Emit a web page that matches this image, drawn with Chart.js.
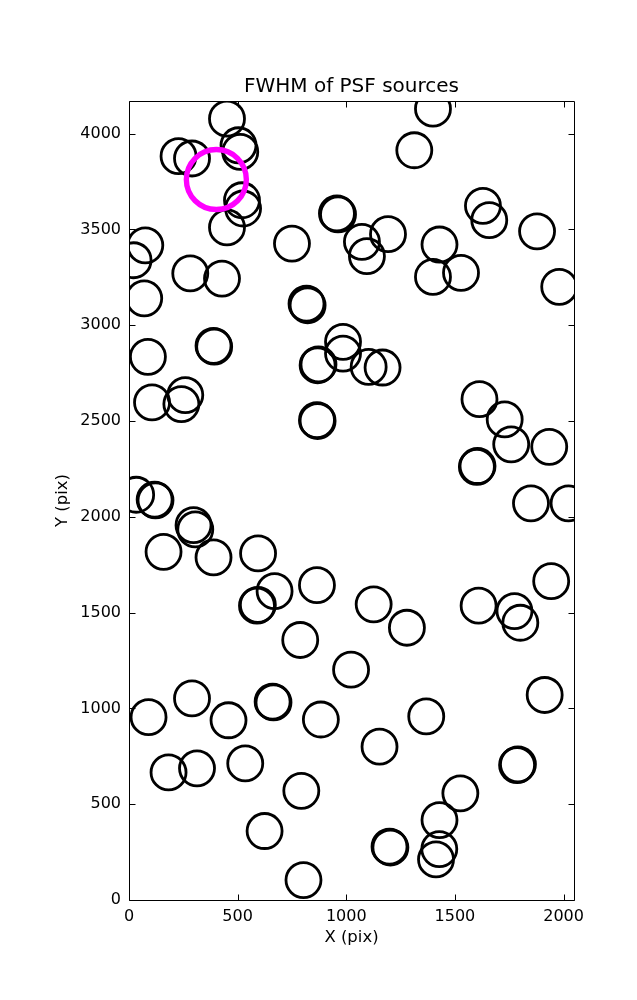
<!DOCTYPE html>
<html>
<head>
<meta charset="utf-8">
<script src="https://cdn.jsdelivr.net/npm/chart.js@4"></script>
<style>
html,body{margin:0;padding:0;background:#fff;}
canvas{display:block;}
</style>
</head>
<body>
<canvas id="c" width="637" height="1000"></canvas>
<script>
// Source positions (pix)
const srcX = [451,504,512,228,290,520,525,451,957,962,75,21,282,428,70,750,817,822,
  1399,1313,1072,1095,1192,1429,1399,1528,1629,1658,1878,1980,
  389,392,87,985,985,868,872,1103,1167,106,259,241,865,868,
  1613,1729,1759,1934,1601,1604,1850,2023,33,118,122,
  297,305,159,389,594,670,589,593,865,788,1022,
  90,290,458,661,665,883,1943,1126,1279,1609,1774,1801,1913,1368,1153,
  182,313,535,793,624,803,1786,1790,1525,1429,1199,1203,1428,1413];
const srcY = [4078,3939,3904,3882,3870,3652,3609,3510,3583,3578,3417,3339,3270,3243,3140,3426,3112,3104,
  4130,3913,3435,3360,3475,3421,3252,3273,3623,3548,3490,3200,
  2892,2888,2835,2913,2852,2791,2795,2782,2779,2597,2635,2588,2504,2500,
  2614,2508,2378,2365,2261,2265,2070,2070,2115,2090,2086,
  1956,1934,1817,1788,1809,1612,1536,1540,1643,1357,1202,
  954,1052,938,1035,1031,942,1664,1543,1421,1536,1508,1447,1070,958,800,
  666,687,713,570,360,104,704,708,557,417,278,274,266,212];
// Highlighted source
const hiX = [402];
const hiY = [3760];
// Axis ranges and ticks
const xRange = [0, 2048];
const yRange = [0, 4170];
const xTicks = [0,500,1000,1500,2000];
const yTicks = [0,500,1000,1500,2000,2500,3000,3500,4000];

const FONT = "'DejaVu Sans', sans-serif";
Chart.defaults.color = '#000';
Chart.defaults.font.family = FONT;

const frame = {
  id: 'frame',
  afterDatasetsDraw(chart) {
    const {ctx, chartArea: a, scales: {x, y}} = chart;
    ctx.save();
    ctx.strokeStyle = '#000';
    ctx.lineWidth = 1;
    const L = Math.round(a.left) + 0.5, R = Math.round(a.right) + 0.5;
    const T = Math.round(a.top) + 0.5, B = Math.round(a.bottom) + 0.5;
    ctx.beginPath();
    ctx.rect(L, T, R - L, B - T);
    const len = 6;
    x.ticks.forEach(t => {
      const px = Math.round(x.getPixelForValue(t.value)) + 0.5;
      ctx.moveTo(px, B); ctx.lineTo(px, B - len);
      ctx.moveTo(px, T); ctx.lineTo(px, T + len);
    });
    y.ticks.forEach(t => {
      const py = Math.round(y.getPixelForValue(t.value)) + 0.5;
      ctx.moveTo(L, py); ctx.lineTo(L + len, py);
      ctx.moveTo(R, py); ctx.lineTo(R - len, py);
    });
    ctx.stroke();
    ctx.restore();
  }
};

new Chart(document.getElementById('c'), {
  type: 'scatter',
  data: {
    datasets: [
      {
        data: hiX.map((v, i) => ({x: v, y: hiY[i]})),
        pointRadius: 30, pointHoverRadius: 30,
        pointBorderWidth: 5.4, pointHoverBorderWidth: 5.4,
        borderColor: '#ff00ff', backgroundColor: 'rgba(0,0,0,0)',
        clip: 0
      },
      {
        data: srcX.map((v, i) => ({x: v, y: srcY[i]})),
        pointRadius: 17.5, pointHoverRadius: 17.5,
        pointBorderWidth: 2.8, pointHoverBorderWidth: 2.8,
        borderColor: '#000', backgroundColor: 'rgba(0,0,0,0)',
        clip: 0
      }
    ]
  },
  options: {
    responsive: false,
    animation: false,
    devicePixelRatio: 1,
    events: [],
    layout: {padding: {left: 49, right: 63, top: 75, bottom: 48}},
    plugins: {
      legend: {display: false},
      tooltip: {enabled: false},
      title: {
        display: true,
        fullSize: false,
        text: 'FWHM of PSF sources',
        color: '#000',
        font: {family: FONT, size: 20, weight: 'normal'},
        padding: {top: 0, bottom: 2}
      }
    },
    scales: {
      x: {
        type: 'linear', min: xRange[0], max: xRange[1],
        grid: {display: false, drawTicks: false},
        border: {display: false},
        afterBuildTicks: s => { s.ticks = xTicks.map(v => ({value: v})); },
        afterFit: s => { s.height = 52; },
        ticks: {font: {size: 16}, padding: 7, maxRotation: 0, color: '#000', callback: v => String(v)},
        title: {display: true, text: 'X (pix)', font: {size: 16.5}, color: '#000', padding: {top: 4, bottom: 4}}
      },
      y: {
        type: 'linear', min: yRange[0], max: yRange[1],
        grid: {display: false, drawTicks: false},
        border: {display: false},
        afterBuildTicks: s => { s.ticks = yTicks.map(v => ({value: v})); },
        afterFit: s => { s.width = 80; },
        ticks: {font: {size: 16}, padding: 8, color: '#000', callback: v => String(v)},
        title: {display: true, text: 'Y (pix)', font: {size: 16.5}, color: '#000', padding: {top: 4, bottom: 4}}
      }
    }
  },
  plugins: [frame]
});
</script>
</body>
</html>
